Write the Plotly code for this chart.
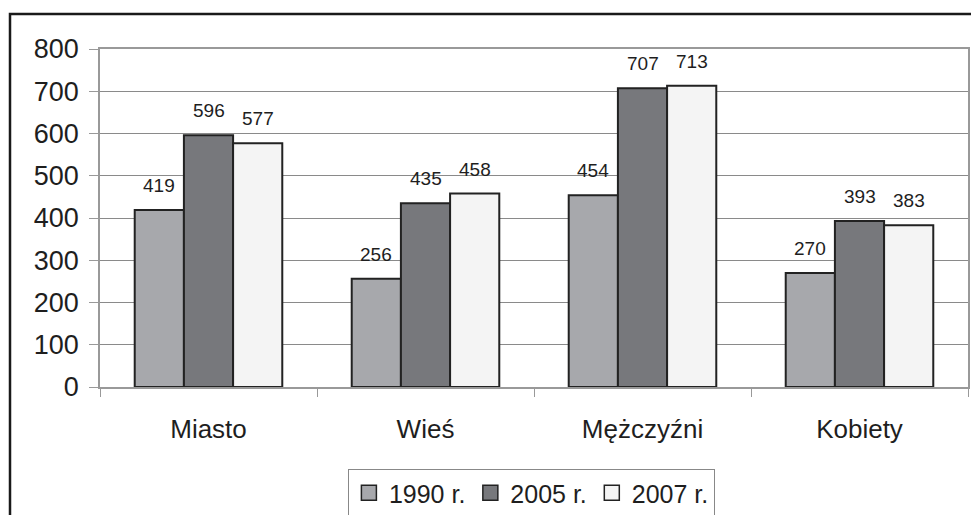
import plotly.graph_objects as go

categories = ["Miasto", "Wieś", "Mężczyźni", "Kobiety"]
series_names = ["1990 r.", "2005 r.", "2007 r."]
values_1990 = [419, 256, 454, 270]
values_2005 = [596, 435, 707, 393]
values_2007 = [577, 458, 713, 383]
y_ticks = [0, 100, 200, 300, 400, 500, 600, 700, 800]

series_values = [values_1990, values_2005, values_2007]
colors = ["#a7a8ac", "#77787c", "#f4f4f4"]

W, H = 971, 515
ML, MR, MT, MB = 100, 3, 49, 128
BARGAP = 0.32
FONT = "Liberation Sans, Arial, sans-serif"
TXT = "#1e1e1e"

fig = go.Figure()
for name, vals, col in zip(series_names, series_values, colors):
    fig.add_trace(go.Bar(
        name=name, x=categories, y=vals, showlegend=False,
        marker=dict(color=col, line=dict(color="#222222", width=2)),
    ))
# legend entries with larger square swatches
for name, col in zip(series_names, colors):
    fig.add_trace(go.Scatter(
        name=name, x=[None], y=[None], mode="markers", showlegend=True,
        marker=dict(symbol="square", size=15, color=col,
                    line=dict(color="#222222", width=1.5)),
    ))

# data labels above bars
plot_w = W - ML - MR
bar_w = plot_w / len(categories) * (1 - BARGAP) / len(series_names)
for i, vals in enumerate(series_values):
    for cat, v in zip(categories, vals):
        fig.add_annotation(
            x=cat, y=v, xref="x", yref="y", text=str(v), showarrow=False,
            xanchor="center", yanchor="bottom",
            xshift=(i - 1) * bar_w, yshift=12,
            font=dict(family=FONT, size=19, color=TXT),
        )

# outer black frame (cut by the image edges at right and bottom)
plot_h = H - MT - MB
fig.add_shape(
    type="rect", xref="paper", yref="paper",
    x0=(10 - ML) / plot_w, x1=(W + 10 - ML) / plot_w,
    y0=-(MB + 10) / plot_h, y1=(H - MB - 14) / plot_h,
    line=dict(color="#1a1a1a", width=2.5), fillcolor="rgba(0,0,0,0)",
    layer="above",
)

fig.update_layout(
    width=W, height=H,
    margin=dict(l=ML, r=MR, t=MT, b=MB, autoexpand=False),
    paper_bgcolor="white", plot_bgcolor="white",
    barmode="group", bargap=BARGAP, bargroupgap=0,
    font=dict(family=FONT, color=TXT),
    showlegend=True,
    legend=dict(
        orientation="h", x=0.497, xanchor="center",
        y=(H - MB - 469) / plot_h, yanchor="top",
        font=dict(family=FONT, size=25, color=TXT),
        bgcolor="white", bordercolor="#888888", borderwidth=1,
        itemwidth=30, tracegroupgap=0,
    ),
)
fig.update_xaxes(
    showline=True, linecolor="#999999", linewidth=1.5, mirror=True,
    ticks="outside", tickson="boundaries", ticklen=8, tickcolor="#999999",
    tickfont=dict(family=FONT, size=26, color=TXT),
    ticklabelstandoff=18, showgrid=False, automargin=False,
)
fig.update_yaxes(
    range=[0, 800], tickvals=y_ticks,
    showline=True, linecolor="#999999", linewidth=1.5, mirror=True,
    ticks="outside", ticklen=9, tickcolor="#999999",
    tickfont=dict(family=FONT, size=27, color=TXT),
    ticklabelstandoff=5, automargin=False,
    showgrid=True, gridcolor="#8a8a8a", gridwidth=1, zeroline=False,
)

fig.write_html(
    "out.html",
    config={"displayModeBar": False},
    post_script="document.body.style.margin='0px';"
                "document.body.style.overflow='hidden';",
)
